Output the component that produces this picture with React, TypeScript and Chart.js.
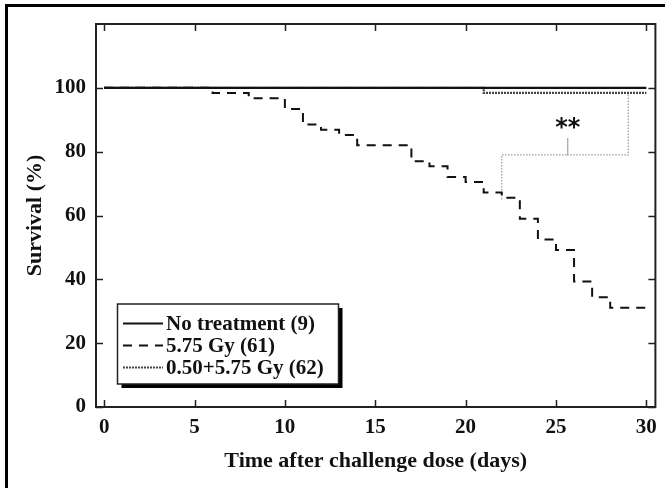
import React, { useEffect, useRef } from 'react';
import { Chart, registerables } from 'chart.js';

Chart.register(...registerables);

// ---- data ----
const noTreatDays = [0, 30];
const noTreatSurv = [100, 100];
const gyDays = [0, 6, 8, 10, 11, 12, 13, 14, 17, 18, 19, 20, 21, 22, 23, 24, 25, 26, 27, 28, 30];
const gySurv = [100, 98.4, 96.7, 93.4, 88.5, 86.9, 85.2, 82.0, 77.0, 75.4, 72.1, 70.5, 67.2, 65.6, 59.0, 52.5, 49.2, 39.3, 34.4, 31.1, 29.5];
const combDays = [0, 21, 30];
const combSurv = [100, 98.4, 98.4];
const bracketDays = [22, 22, 25.65, 25.65, 25.65, 29, 29];
const bracketVals = [65, 79, 79, 84.3, 79, 79, 98.4];
const sigLabel = '**';
const sigDay = 25.65;
const sigVal = 89.1;
const xTicks = [0, 5, 10, 15, 20, 25, 30];
const yTicks = [0, 20, 40, 60, 80, 100];
const legendLabels = ['No treatment (9)', '5.75 Gy (61)', '0.50+5.75 Gy (62)'];
const xTitle = 'Time after challenge dose (days)';
const yTitle = 'Survival (%)';

const SERIF = "'Liberation Serif', 'Times New Roman', serif";
const INK = '#111';

const toPts = (xs: number[], ys: number[]) => xs.map((x, i) => ({ x, y: ys[i] }));

const dashStyles: { dash: number[]; width: number; color: string }[] = [
  { dash: [], width: 2.2, color: '#111' },
  { dash: [9, 7], width: 2, color: '#111' },
  { dash: [2, 1], width: 2.2, color: '#444' },
];

const overlayPlugin = {
  id: 'overlay',
  afterDatasetsDraw(chart: any) {
    const { ctx, chartArea } = chart;
    const { left, right, top, bottom } = chartArea;
    const xs = chart.scales.x;
    const ys = chart.scales.y;
    ctx.save();
    // frame
    ctx.strokeStyle = '#222';
    ctx.lineWidth = 2;
    ctx.setLineDash([]);
    ctx.strokeRect(left, top, right - left, bottom - top);
    // inward ticks
    ctx.lineWidth = 1.5;
    const tl = 7;
    ctx.beginPath();
    xTicks.forEach((v) => {
      const px = Math.round(xs.getPixelForValue(v)) + 0.5;
      ctx.moveTo(px, bottom);
      ctx.lineTo(px, bottom - tl);
      ctx.moveTo(px, top);
      ctx.lineTo(px, top + tl);
    });
    yTicks.forEach((v) => {
      const py = Math.round(ys.getPixelForValue(v)) + 0.5;
      ctx.moveTo(left, py);
      ctx.lineTo(left + tl, py);
      ctx.moveTo(right, py);
      ctx.lineTo(right - tl, py);
    });
    ctx.stroke();

    // significance stars
    ctx.font = "bold 24px 'DejaVu Sans', sans-serif";
    ctx.fillStyle = '#111';
    ctx.textAlign = 'center';
    ctx.textBaseline = 'alphabetic';
    const m = ctx.measureText(sigLabel);
    const cx = xs.getPixelForValue(sigDay);
    const cy = ys.getPixelForValue(sigVal);
    const asc = m.actualBoundingBoxAscent;
    const desc = m.actualBoundingBoxDescent;
    ctx.fillText(sigLabel, cx, cy + (asc - desc) / 2);

    // legend box
    const bx = 117.5, by = 304, bw = 221, bh = 80;
    ctx.fillStyle = '#000';
    ctx.fillRect(bx + 4, by + 4, bw, bh);
    ctx.fillStyle = '#fff';
    ctx.fillRect(bx, by, bw, bh);
    ctx.strokeStyle = '#222';
    ctx.lineWidth = 1.5;
    ctx.strokeRect(bx, by, bw, bh);
    const rows = [323.5, 345.5, 367.5];
    legendLabels.forEach((lab, i) => {
      const st = dashStyles[i];
      ctx.beginPath();
      ctx.setLineDash(st.dash);
      ctx.strokeStyle = st.color;
      ctx.lineWidth = 2;
      ctx.moveTo(123, rows[i]);
      ctx.lineTo(163, rows[i]);
      ctx.stroke();
      ctx.setLineDash([]);
      ctx.fillStyle = '#111';
      ctx.font = `bold 21px ${SERIF}`;
      ctx.textAlign = 'left';
      ctx.textBaseline = 'middle';
      ctx.fillText(lab, 166, rows[i] + 1);
    });
    ctx.restore();
  },
};

export default function App() {
  const ref = useRef<HTMLCanvasElement | null>(null);

  useEffect(() => {
    if (!ref.current) return;
    const mk = (i: number, xs: number[], ys: number[]) => ({
      label: legendLabels[i],
      data: toPts(xs, ys),
      borderColor: dashStyles[i].color,
      borderWidth: dashStyles[i].width,
      borderDash: dashStyles[i].dash,
      pointRadius: 0,
      stepped: true,
      fill: false,
    });
    const chart = new Chart(ref.current, {
      type: 'line',
      data: {
        datasets: [
          mk(0, noTreatDays, noTreatSurv),
          mk(1, gyDays, gySurv),
          mk(2, combDays, combSurv),
          {
            label: 'bracket',
            data: toPts(bracketDays, bracketVals),
            borderColor: '#9a9a9a',
            borderWidth: 1.2,
            borderDash: [1.5, 1.5],
            pointRadius: 0,
            fill: false,
          },
        ],
      },
      options: {
        animation: false,
        responsive: false,
        maintainAspectRatio: false,
        layout: { padding: { top: 24, right: 9, left: 0, bottom: 0 } },
        plugins: { legend: { display: false }, tooltip: { enabled: false } },
        scales: {
          x: {
            type: 'linear',
            min: -0.45,
            max: 30.5,
            afterBuildTicks: (s: any) => {
              s.ticks = xTicks.map((v) => ({ value: v }));
            },
            afterFit: (s: any) => {
              s.height = 81;
            },
            grid: { display: false, drawTicks: false },
            border: { display: false },
            ticks: {
              font: { family: SERIF, size: 21, weight: 'bold' },
              color: INK,
              padding: 8,
              maxRotation: 0,
              autoSkip: false,
            },
            title: {
              display: true,
              text: xTitle,
              font: { family: SERIF, size: 22, weight: 'bold' },
              color: INK,
              padding: { top: 0, bottom: 13 },
            },
          },
          y: {
            type: 'linear',
            min: 0,
            max: 120,
            afterBuildTicks: (s: any) => {
              s.ticks = yTicks.map((v) => ({ value: v }));
            },
            afterFit: (s: any) => {
              s.width = 96;
            },
            grid: { display: false, drawTicks: false },
            border: { display: false },
            ticks: {
              font: { family: SERIF, size: 21, weight: 'bold' },
              color: INK,
              padding: 10,
              autoSkip: false,
            },
            title: {
              display: true,
              text: yTitle,
              font: { family: SERIF, size: 22, weight: 'bold' },
              color: INK,
              padding: { top: 22, bottom: 0 },
            },
          },
        },
      },
      plugins: [overlayPlugin],
    } as any);
    return () => chart.destroy();
  }, []);

  return (
    <div
      style={{
        position: 'fixed',
        left: 0,
        top: 0,
        width: 665,
        height: 488,
        background: '#fff',
        overflow: 'hidden',
      }}
    >
      <div
        style={{
          position: 'absolute',
          left: 5,
          top: 4,
          width: 700,
          height: 520,
          borderTop: '3px solid #000',
          borderLeft: '3px solid #000',
        }}
      />
      <canvas
        ref={ref}
        width={665}
        height={488}
        style={{ position: 'absolute', left: 0, top: 0, display: 'block' }}
      />
    </div>
  );
}
